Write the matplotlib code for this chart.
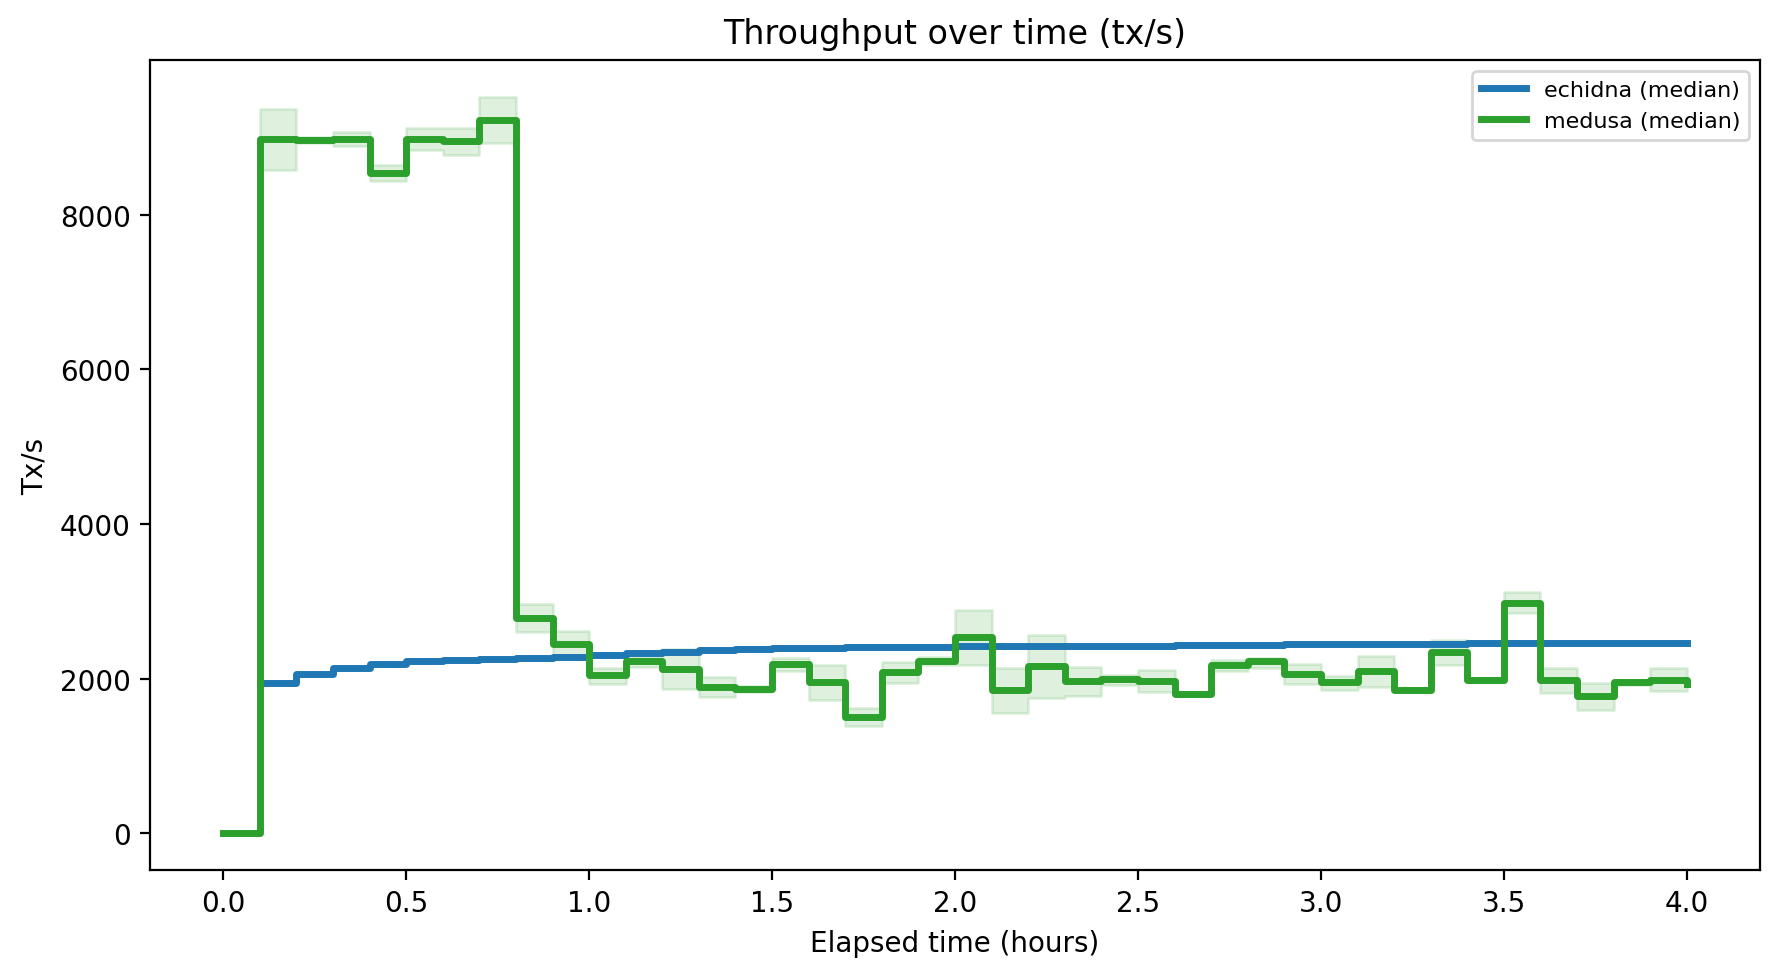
import numpy as np
import matplotlib
matplotlib.use("Agg")
import matplotlib.pyplot as plt

# time bins (hours), 0.1 h steps
hours = [round(0.1 * i, 1) for i in range(41)]

# echidna median tx/s (no sample in the first bin)
echidna = [np.nan, 1938, 2054, 2132, 2184, 2226, 2239, 2256, 2261, 2274,
           2300, 2326, 2347, 2365, 2380, 2390, 2398, 2403, 2408, 2412,
           2415, 2418, 2420, 2422, 2424, 2426, 2430, 2434, 2437, 2441,
           2444, 2446, 2448, 2452, 2455, 2456, 2457, 2458, 2459, 2460,
           2460]

# medusa median tx/s plus min/max band
medusa = [0, 8975, 8962, 8979, 8539, 8975, 8950, 9221, 2783, 2450,
          2045, 2222, 2123, 1890, 1864, 2188, 1955, 1506, 2080, 2230,
          2537, 1847, 2166, 1964, 1998, 1964, 1800, 2179, 2222, 2058,
          1950, 2093, 1855, 2339, 1977, 2977, 1977, 1778, 1950, 1977,
          1933]
medusa_lo = [0, 8574, 8930, 8885, 8440, 8841, 8768, 8927, 2598, 2300,
             1929, 2150, 1864, 1757, 1830, 2101, 1722, 1389, 1942, 2180,
             2179, 1554, 1748, 1770, 1920, 1822, 1770, 2093, 2136, 1924,
             1855, 1886, 1830, 2179, 1950, 2847, 1812, 1597, 1920, 1834,
             1834]
medusa_hi = [0, 9371, 9000, 9070, 8639, 9121, 9121, 9523, 2968, 2618,
             2136, 2280, 2386, 2019, 1900, 2265, 2171, 1618, 2213, 2280,
             2890, 2136, 2559, 2145, 2050, 2114, 1830, 2243, 2265, 2183,
             2028, 2295, 1880, 2502, 2010, 3119, 2136, 1942, 1980, 2136,
             2136]

DPI = 200
fig = plt.figure(figsize=(1779 / DPI, 978 / DPI), dpi=DPI)
ax = fig.add_axes([150 / 1779, 1 - 871 / 978, (1760 - 150) / 1779, (871 - 61) / 978])

# echidna
ax.step(hours, echidna, where="post", color="C0", lw=2.5, label="echidna (median)")

# medusa band + median
ax.fill_between(hours, medusa_lo, medusa_hi, step="post", color="C2", alpha=0.15)
ax.step(hours, medusa, where="post", color="C2", lw=2.5, label="medusa (median)")

ax.set_title("Throughput over time (tx/s)")
ax.set_xlabel("Elapsed time (hours)")
ax.set_ylabel("Tx/s")
ax.legend(loc="upper right", fontsize=8)

fig.savefig("out.png", dpi=DPI)
